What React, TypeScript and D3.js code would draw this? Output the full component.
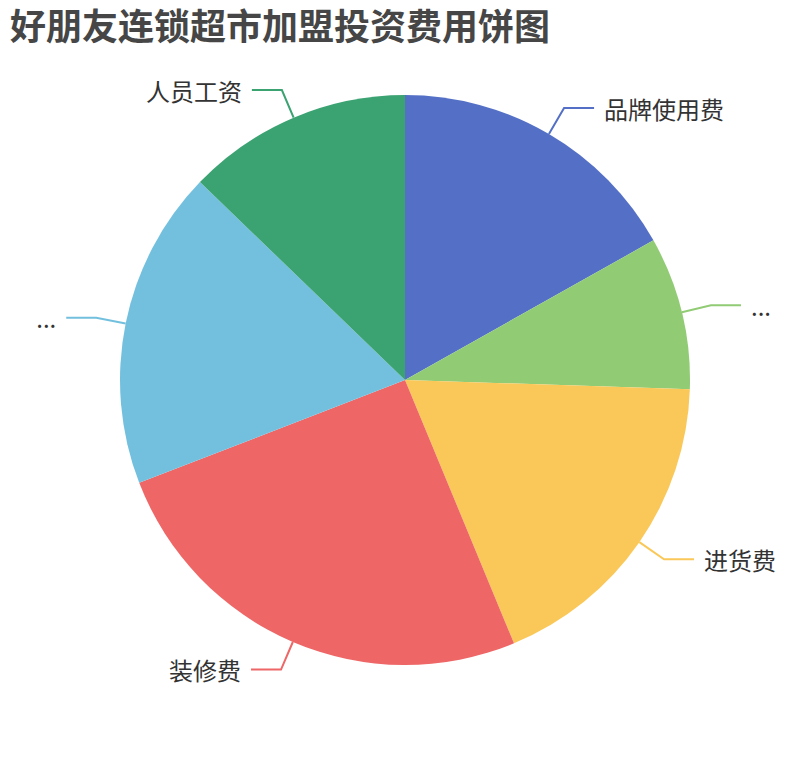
import React, { useEffect, useRef } from 'react';
import * as d3 from 'd3';

// chart data (in 万元)
const title = '好朋友连锁超市加盟投资费用饼图';
const categories = ['品牌使用费', '...', '进货费', '装修费', '...', '人员工资'];
const values = [3.52, 1.81, 3.81, 5.3, 3.78, 2.67];
const colors = ['#5470c6', '#91cc75', '#fac858', '#ee6666', '#73c0de', '#3ba272'];

const WIDTH = 810;
const HEIGHT = 760;

const PieChart: React.FC = () => {
  const svgRef = useRef<SVGSVGElement>(null);

  useEffect(() => {
    if (!svgRef.current) return;

    const svg = d3.select(svgRef.current);
    svg.selectAll('*').remove();

    const font = "'Noto Sans CJK SC', 'Noto Sans', sans-serif";
    const cx = 405;
    const cy = 380;
    const radius = 285;
    const len1 = 30; // radial part of label line
    const len2 = 30; // horizontal part of label line
    const gap = 10;

    const data = categories.map((name, i) => ({ name, value: values[i], color: colors[i] }));

    const pie = d3.pie<typeof data[number]>()
      .value(d => d.value)
      .sort(null)
      .startAngle(0)
      .endAngle(Math.PI * 2);

    const arcs = pie(data);

    const arc = d3.arc<d3.PieArcDatum<typeof data[number]>>()
      .innerRadius(0)
      .outerRadius(radius);

    const g = svg.append('g').attr('transform', `translate(${cx},${cy})`);

    // slices
    g.selectAll('.slice')
      .data(arcs)
      .enter()
      .append('path')
      .attr('class', 'slice')
      .attr('d', arc)
      .attr('fill', d => d.data.color);

    // label lines + labels
    arcs.forEach(d => {
      const mid = (d.startAngle + d.endAngle) / 2;
      const sx = Math.sin(mid);
      const sy = -Math.cos(mid);
      const p0 = [sx * radius, sy * radius];
      const p1 = [sx * (radius + len1), sy * (radius + len1)];
      const right = sx >= 0;
      const p2 = [p1[0] + (right ? len2 : -len2), p1[1]];

      g.append('polyline')
        .attr('points', [p0, p1, p2].map(p => p.join(',')).join(' '))
        .attr('fill', 'none')
        .attr('stroke', d.data.color)
        .attr('stroke-width', 2);

      g.append('text')
        .attr('x', p2[0] + (right ? gap : -gap))
        .attr('y', p2[1])
        .attr('dominant-baseline', 'central')
        .attr('text-anchor', right ? 'start' : 'end')
        .attr('font-family', font)
        .attr('font-size', '24px')
        .attr('fill', '#333')
        .text(d.data.name);
    });

    // title
    svg.append('text')
      .attr('x', 10)
      .attr('y', 40)
      .attr('font-family', font)
      .attr('font-size', '36px')
      .attr('font-weight', 'bold')
      .attr('fill', '#464646')
      .text(title);
  }, []);

  return (
    <svg
      ref={svgRef}
      width={WIDTH}
      height={HEIGHT}
      style={{ position: 'absolute', left: 0, top: 0, display: 'block', background: '#fff' }}
    />
  );
};

export default function App() {
  return <PieChart />;
}
